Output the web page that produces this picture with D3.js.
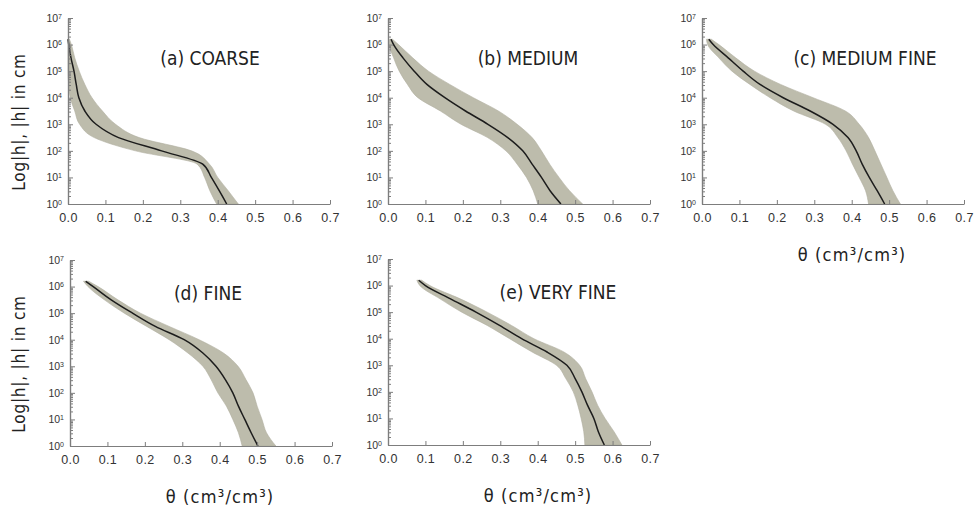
<!DOCTYPE html>
<html>
<head>
<meta charset="utf-8">
<script src="https://cdn.jsdelivr.net/npm/d3@7"></script>
<style>
  body { margin: 0; background: #fff; }
  svg { font-family: 'DejaVu Sans Condensed', 'Liberation Sans Narrow', sans-serif; }
  .axis path, .axis line { stroke: #7d7d7d; }
  .axis text { fill: #333; }
</style>
</head>
<body>
<svg id="chart" width="978" height="513"></svg>
<script>
// log10 of |h| (cm) at which the retention curves were read
const logH = [0, 0.5, 1, 1.5, 2, 2.5, 3, 3.5, 4, 4.5, 5, 5.5, 6, 6.2]

// water content (cm3/cm3): median curve and the edges of the grey band
const coarseMid  = [0.424, 0.404, 0.383, 0.36, 0.25, 0.135, 0.075, 0.045, 0.029, 0.022, 0.016, 0.008, 0.002, 0.0]
const coarseLow  = [0.397, 0.379, 0.365, 0.345, 0.18, 0.07, 0.031, 0.018, 0.006, 0.002, 0, 0, 0, 0]
const coarseHigh = [0.455, 0.428, 0.40, 0.378, 0.33, 0.19, 0.127, 0.092, 0.064, 0.045, 0.03, 0.018, 0.009, 0.004]

const mediumMid  = [0.462, 0.433, 0.41, 0.385, 0.36, 0.32, 0.267, 0.207, 0.152, 0.104, 0.07, 0.04, 0.015, 0.008]
const mediumLow  = [0.40, 0.388, 0.37, 0.345, 0.315, 0.266, 0.195, 0.14, 0.08, 0.052, 0.03, 0.015, 0.004, 0.004]
const mediumHigh = [0.52, 0.485, 0.457, 0.432, 0.41, 0.385, 0.345, 0.295, 0.228, 0.165, 0.108, 0.066, 0.028, 0.012]

const medFineMid  = [0.488, 0.468, 0.447, 0.428, 0.412, 0.39, 0.35, 0.289, 0.217, 0.155, 0.11, 0.07, 0.03, 0.018]
const medFineLow  = [0.445, 0.437, 0.42, 0.402, 0.385, 0.363, 0.33, 0.245, 0.182, 0.128, 0.08, 0.045, 0.015, 0.012]
const medFineHigh = [0.53, 0.51, 0.494, 0.478, 0.462, 0.445, 0.42, 0.383, 0.297, 0.21, 0.14, 0.09, 0.045, 0.025]

const fineMid  = [0.502, 0.484, 0.467, 0.45, 0.435, 0.415, 0.39, 0.355, 0.305, 0.228, 0.167, 0.11, 0.062, 0.042]
const fineLow  = [0.46, 0.45, 0.435, 0.418, 0.395, 0.377, 0.355, 0.315, 0.265, 0.205, 0.145, 0.092, 0.048, 0.036]
const fineHigh = [0.55, 0.525, 0.513, 0.5, 0.489, 0.47, 0.449, 0.41, 0.345, 0.265, 0.188, 0.128, 0.075, 0.05]

const veryFineMid  = [0.578, 0.562, 0.55, 0.533, 0.518, 0.5, 0.478, 0.425, 0.357, 0.298, 0.235, 0.167, 0.1, 0.082]
const veryFineLow  = [0.526, 0.523, 0.516, 0.507, 0.495, 0.475, 0.45, 0.385, 0.325, 0.265, 0.197, 0.139, 0.085, 0.077]
const veryFineHigh = [0.625, 0.604, 0.58, 0.56, 0.545, 0.528, 0.512, 0.47, 0.39, 0.33, 0.265, 0.193, 0.112, 0.09]

const thetaTicks = [0, 0.1, 0.2, 0.3, 0.4, 0.5, 0.6, 0.7]
const decades = [0, 1, 2, 3, 4, 5, 6, 7]

// Panel frames (axis origin, title spot).
const panels = [
  { title: '(a) COARSE',      mid: coarseMid,   low: coarseLow,   high: coarseHigh,   left: 68,  base: 204, tx: 210, ty: 65,  yLabel: true,  xLabel: false },
  { title: '(b) MEDIUM',      mid: mediumMid,   low: mediumLow,   high: mediumHigh,   left: 388, base: 204, tx: 528, ty: 65,  yLabel: false, xLabel: false },
  { title: '(c) MEDIUM FINE', mid: medFineMid,  low: medFineLow,  high: medFineHigh,  left: 702, base: 204, tx: 865, ty: 65,  yLabel: false, xLabel: true },
  { title: '(d) FINE',        mid: fineMid,     low: fineLow,     high: fineHigh,     left: 70,  base: 446, tx: 208, ty: 300, yLabel: true,  xLabel: true },
  { title: '(e) VERY FINE',   mid: veryFineMid, low: veryFineLow, high: veryFineHigh, left: 388, base: 445, tx: 558, ty: 299, yLabel: false, xLabel: true }
]

const svg = d3.select('#chart')

panels.forEach(function(p) {

  const x = d3.scaleLinear().domain([0, 0.7]).range([p.left, p.left + 262])
  const y = d3.scaleLog().domain([1, 1e7]).range([p.base, p.base - 186])

  const rows = logH.map(function(l, i) {
    return { h: Math.pow(10, l), mid: p.mid[i], low: p.low[i], high: p.high[i] }
  })

  const g = svg.append('g')

  // Grey spread band.
  g.append('path')
    .datum(rows)
    .attr('d', d3.area()
      .curve(d3.curveMonotoneY)
      .y(function(d) { return y(d.h) })
      .x0(function(d) { return x(d.low) })
      .x1(function(d) { return x(d.high) }))
    .attr('fill', '#bdbcac')
    .attr('stroke', '#b0af9f')
    .attr('stroke-width', 0.6)

  // Median curve.
  g.append('path')
    .datum(rows)
    .attr('d', d3.line()
      .curve(d3.curveMonotoneY)
      .y(function(d) { return y(d.h) })
      .x(function(d) { return x(d.mid) }))
    .attr('fill', 'none')
    .attr('stroke', '#1c1c1c')
    .attr('stroke-width', 1.5)

  // Y axis: minor ticks, then majors with labels.
  const minor = y.ticks().filter(function(v) { return Math.round(Math.log10(v) * 1000) % 1000 !== 0 })
  g.append('g')
    .attr('class', 'axis')
    .attr('transform', 'translate(' + p.left + ',0)')
    .call(d3.axisLeft(y).tickValues(minor).tickSizeInner(-3).tickSizeOuter(0).tickFormat(''))

  const yAxis = g.append('g')
    .attr('class', 'axis')
    .attr('transform', 'translate(' + p.left + ',0)')
    .call(d3.axisLeft(y)
      .tickValues(decades.map(function(n) { return Math.pow(10, n) }))
      .tickSizeInner(-5).tickSizeOuter(0).tickPadding(6)
      .tickFormat(''))

  yAxis.selectAll('.tick text')
    .attr('font-size', 10.5)
    .each(function(v) {
      const t = d3.select(this)
      t.append('tspan').text('10')
      t.append('tspan').attr('font-size', 7).attr('dy', '-0.45em').text(Math.round(Math.log10(v)))
    })

  // X axis.
  g.append('g')
    .attr('class', 'axis')
    .attr('transform', 'translate(0,' + p.base + ')')
    .call(d3.axisBottom(x).tickValues(thetaTicks).tickSizeInner(-4).tickSizeOuter(0).tickPadding(9)
      .tickFormat(d3.format('.1f')))
    .selectAll('.tick text')
      .attr('font-size', 12.5)
      .attr('letter-spacing', 0.4)

  g.selectAll('.axis path.domain').attr('stroke-width', 1.2)

  // Panel title.
  g.append('text')
    .attr('x', p.tx)
    .attr('y', p.ty)
    .attr('text-anchor', 'middle')
    .attr('font-size', 19)
    .attr('fill', '#222')
    .text(p.title)

  if (p.yLabel) {
    g.append('text')
      .attr('transform', 'translate(25,' + (p.base - 82) + ') rotate(-90)')
      .attr('text-anchor', 'middle')
      .attr('font-size', 17)
      .attr('letter-spacing', 0.8)
      .attr('fill', '#222')
      .text('Log|h|, |h| in cm')
  }

  if (p.xLabel) {
    g.append('text')
      .attr('x', p.left + 150)
      .attr('y', p.base + 57)
      .attr('text-anchor', 'middle')
      .attr('font-size', 18)
      .attr('letter-spacing', 1.2)
      .attr('fill', '#222')
      .text('θ (cm³/cm³)')
  }

})
</script>
</body>
</html>
